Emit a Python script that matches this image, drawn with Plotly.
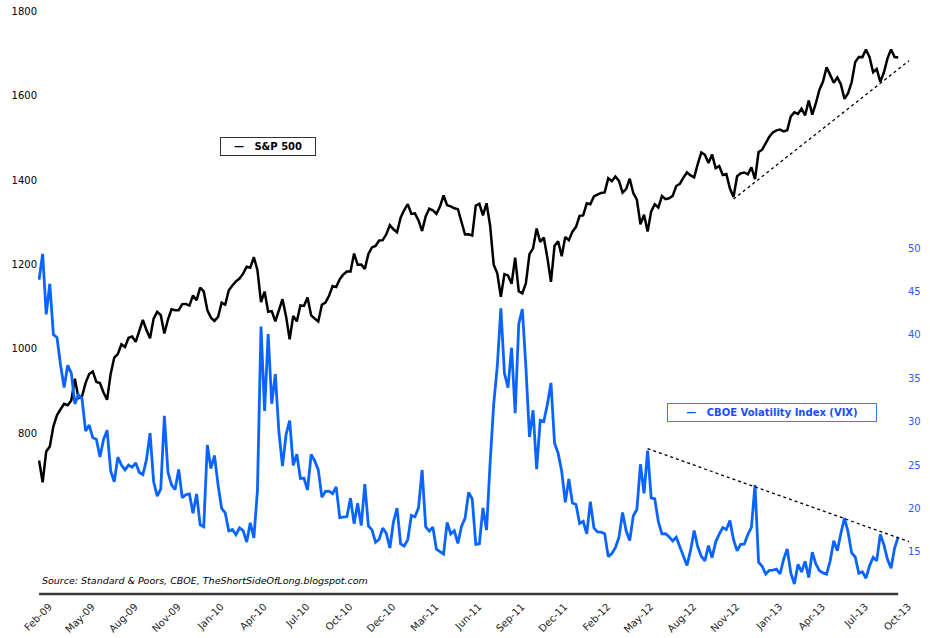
import plotly.graph_objects as go

# weekly closes, 27 Feb 2009 .. 4 Oct 2013
spx = [
    735.09, 683.38, 756.55, 768.54, 815.94, 842.50, 856.56, 869.60, 866.23, 877.52,
    929.23, 882.88, 887.00, 919.14, 940.09, 946.21, 921.23, 918.90, 896.42, 879.13,
    940.38, 979.26, 987.48, 1010.48, 1004.09, 1026.13, 1028.93, 1016.40, 1042.73, 1068.30,
    1044.38, 1025.21, 1071.49, 1087.68, 1079.60, 1036.19, 1069.30, 1093.48, 1091.38, 1091.49,
    1105.98, 1106.41, 1102.47, 1126.48, 1115.10,
    1144.98, 1136.03, 1091.76, 1073.87, 1066.19, 1075.51, 1109.17, 1104.49, 1138.70, 1149.99,
    1159.90, 1166.59, 1178.10, 1194.37, 1192.13, 1217.28, 1186.69, 1110.88, 1135.68, 1087.69,
    1089.41, 1064.88, 1091.60, 1117.51, 1076.76, 1022.58, 1077.96, 1064.88, 1102.66, 1101.60,
    1121.64, 1079.25, 1071.69, 1064.59, 1104.51, 1109.55, 1125.59, 1148.67, 1146.24, 1165.15,
    1176.19, 1183.08, 1183.26, 1225.85, 1199.21, 1199.73, 1189.40, 1224.71, 1240.40, 1243.91,
    1256.77, 1257.64,
    1271.50, 1293.24, 1283.35, 1276.34, 1310.87, 1329.15, 1343.01, 1319.88, 1321.15, 1304.28,
    1279.20, 1313.80, 1332.41, 1328.17, 1319.68, 1337.38, 1363.61, 1340.20, 1337.77, 1333.27,
    1331.10, 1300.16, 1270.98, 1271.50, 1268.45, 1339.67, 1343.80, 1316.14, 1345.02, 1292.28,
    1199.38, 1178.81, 1123.53, 1176.80, 1173.97, 1154.23, 1216.01, 1136.43, 1131.42, 1155.46,
    1224.58, 1238.25, 1285.09, 1253.23, 1263.85, 1215.65, 1158.67, 1244.28, 1255.19, 1219.66,
    1265.33, 1257.60,
    1277.81, 1289.09, 1315.38, 1316.33, 1344.90, 1342.64, 1361.23, 1365.74, 1369.63, 1370.87,
    1404.17, 1397.11, 1408.47, 1398.08, 1370.26, 1378.53, 1403.36, 1369.10, 1353.39, 1295.22,
    1317.82, 1278.04, 1325.66, 1342.84, 1335.02, 1362.16, 1354.68, 1356.78, 1362.66, 1385.97,
    1390.99, 1405.87, 1418.16, 1411.13, 1406.58, 1437.92, 1465.77, 1460.15, 1440.67, 1460.93,
    1428.59, 1433.19, 1411.94, 1414.20, 1379.85, 1359.88, 1409.15, 1416.18, 1418.07, 1413.58,
    1430.15, 1402.43,
    1466.47, 1472.05, 1485.98, 1502.96, 1513.17, 1517.93, 1519.79, 1515.60, 1518.20, 1551.18,
    1560.70, 1556.89, 1569.19, 1553.28, 1588.85, 1555.25, 1582.24, 1614.42, 1633.70, 1667.47,
    1649.60, 1630.74, 1643.38, 1626.73, 1592.43, 1606.28, 1631.89, 1680.19, 1692.09, 1691.65,
    1709.67, 1691.42, 1655.83, 1663.50, 1632.97, 1655.17, 1687.99, 1709.91, 1691.75, 1690.50,
]

vix = [
    46.35, 49.33, 42.36, 45.89, 40.04, 39.70, 36.53, 33.94, 36.50, 35.60,
    32.05, 33.12, 32.63, 28.92, 29.62, 28.15, 27.99, 25.93, 27.95, 29.02,
    24.34, 23.09, 25.92, 25.00, 24.45, 25.01, 24.76, 25.26, 24.15, 23.92,
    25.61, 28.68, 23.12, 21.43, 22.27, 30.69, 24.19, 22.73, 22.19, 24.51,
    21.25, 21.59, 21.68, 19.47, 21.68,
    18.13, 17.91, 27.31, 24.62, 26.11, 22.73, 20.02, 19.50, 17.42, 17.58,
    16.97, 17.77, 17.47, 16.14, 18.36, 16.62, 22.05, 40.95, 31.24, 40.10,
    32.07, 35.48, 28.79, 24.88, 28.53, 30.12, 24.98, 26.25, 23.47, 23.50,
    22.14, 26.24, 25.49, 24.45, 21.31, 21.99, 22.01, 21.71, 22.50, 18.96,
    19.03, 19.08, 21.20, 18.26, 20.61, 18.04, 22.80, 18.01, 17.55, 16.11,
    16.47, 17.75,
    17.14, 15.46, 18.47, 20.04, 15.93, 15.69, 16.43, 19.22, 19.06, 20.08,
    24.44, 17.91, 17.40, 17.87, 15.32, 15.07, 14.75, 18.40, 17.07, 17.43,
    15.98, 17.95, 18.86, 21.85, 21.10, 15.87, 15.95, 20.08, 17.52, 25.25,
    32.00, 36.36, 43.05, 35.59, 33.92, 38.52, 30.98, 41.25, 42.96, 36.27,
    28.24, 31.32, 24.53, 30.16, 30.04, 32.00, 34.47, 27.52, 26.38, 24.29,
    20.73, 23.40,
    20.63, 20.47, 18.28, 18.53, 17.10, 20.79, 17.78, 17.31, 17.29, 17.11,
    14.47, 14.82, 15.50, 16.70, 19.55, 17.44, 16.32, 19.16, 19.89, 25.10,
    21.76, 26.66, 21.23, 21.11, 18.50, 17.08, 17.10, 16.74, 16.27, 16.70,
    15.64, 14.74, 13.45, 15.18, 17.47, 15.60, 14.51, 13.98, 15.73, 14.33,
    16.14, 17.06, 17.81, 17.59, 18.61, 16.41, 15.14, 15.87, 15.90, 17.00,
    17.84, 22.72,
    13.83, 13.36, 12.46, 12.89, 12.90, 13.02, 12.46, 14.17, 15.36, 12.59,
    11.30, 13.57, 12.70, 13.92, 12.06, 14.97, 13.61, 12.85, 12.59, 12.45,
    13.99, 16.30, 15.14, 17.15, 18.90, 17.30, 14.89, 14.42, 12.54, 12.72,
    11.98, 13.41, 14.37, 13.98, 17.01, 15.85, 14.16, 13.12, 15.46, 16.74,
]

tick_labels = ["Feb-09", "May-09", "Aug-09", "Nov-09", "Jan-10", "Apr-10", "Jul-10",
               "Oct-10", "Dec-10", "Mar-11", "Jun-11", "Sep-11", "Dec-11", "Feb-12",
               "May-12", "Aug-12", "Nov-12", "Jan-13", "Apr-13", "Jul-13", "Oct-13"]
tick_step = 12

# dotted trend lines (week index, value)
spx_trend_x = [194, 243]
spx_trend_y = [1355, 1683]
vix_trend_x = [170, 243]
vix_trend_y = [26.9, 16.2]

weeks = list(range(len(spx)))
blue = "#0a64ff"
# slanted labels sit centred under their week in the original; plotly anchors their end
label_shift = 2.8

fig = go.Figure()
fig.add_trace(go.Scatter(x=weeks, y=spx, mode="lines", name="S&P 500",
                         line=dict(color="black", width=2.5)))
fig.add_trace(go.Scatter(x=spx_trend_x, y=spx_trend_y, mode="lines",
                         line=dict(color="black", width=1.3, dash="dot")))
fig.add_trace(go.Scatter(x=weeks, y=vix, mode="lines", name="CBOE Volatility Index (VIX)",
                         yaxis="y2", line=dict(color=blue, width=2.8)))
fig.add_trace(go.Scatter(x=vix_trend_x, y=vix_trend_y, mode="lines", yaxis="y2",
                         line=dict(color="black", width=1.3, dash="dot")))

fig.update_layout(
    width=930, height=638,
    margin=dict(l=38, r=20, t=11, b=44),
    plot_bgcolor="white", paper_bgcolor="white",
    showlegend=False,
    font=dict(family="DejaVu Sans", size=10, color="black"),
    xaxis=dict(range=[-0.3, 243.3],
               tickvals=[w + label_shift for w in weeks[::tick_step]], ticktext=tick_labels,
               tickangle=-45, ticklabelstandoff=4, tickfont=dict(size=10, color="#222"),
               showgrid=False, zeroline=False, showline=False, ticks="", automargin=False),
    yaxis=dict(range=[418.5, 1801], tickvals=[800, 1000, 1200, 1400, 1600, 1800],
               showgrid=False, zeroline=False, ticks="", automargin=False,
               tickfont=dict(size=10, color="black")),
    yaxis2=dict(range=[10.16, 77.3], tickvals=[15, 20, 25, 30, 35, 40, 45, 50],
                overlaying="y", side="right", showgrid=False, zeroline=False, ticks="",
                ticklabelstandoff=-3, automargin=False,
                tickfont=dict(size=10, color="#2a5cff")),
)

# bottom axis rule
fig.add_shape(type="line", xref="x", yref="paper", x0=0, x1=240, y0=0, y1=0,
              line=dict(color="#3a3a3a", width=2.5))

fig.add_annotation(text="<i>Source: Standard &amp; Poors, CBOE, TheShortSideOfLong.blogspot.com</i>",
                   xref="x", yref="paper", x=0.2, y=0.024, xanchor="left", yanchor="middle",
                   showarrow=False, font=dict(size=9.5, color="black"))

fig.add_annotation(text="<b>—&nbsp;&nbsp;&nbsp;S&amp;P 500</b>",
                   xref="x", yref="y", x=64.0, y=1479, showarrow=False,
                   width=92, height=15, borderpad=1, bordercolor="#333", borderwidth=1,
                   bgcolor="white", font=dict(size=10, color="black"))
fig.add_annotation(text="<b>—&nbsp;&nbsp;&nbsp;CBOE Volatility Index (VIX)</b>",
                   xref="x", yref="y2", x=204.8, y=31.1, showarrow=False,
                   width=206, height=15, borderpad=1, bordercolor="#3a7bff", borderwidth=1,
                   bgcolor="white", font=dict(size=10, color="#1a4cff"))

fig.write_html("out.html", config={"displayModeBar": False},
               post_script="document.body.style.margin='0px';")
